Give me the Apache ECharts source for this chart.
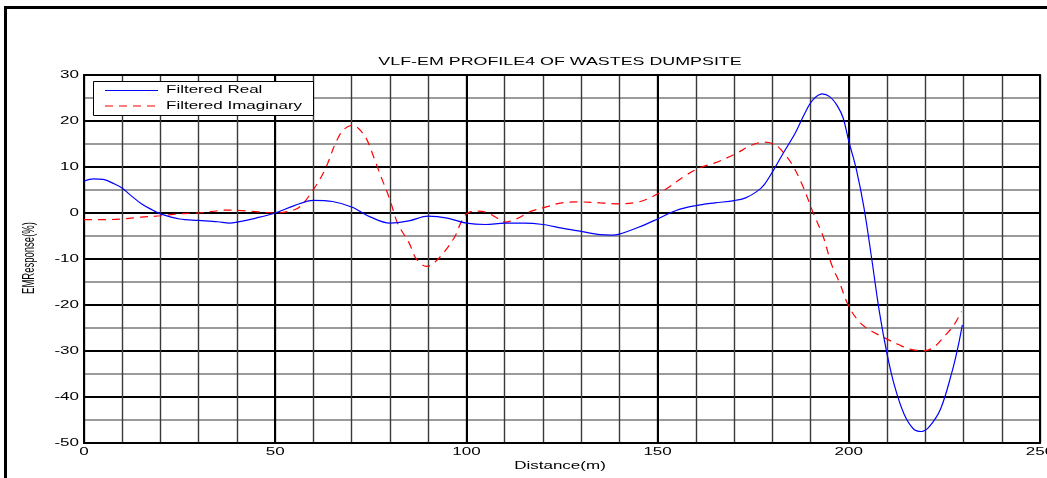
<!DOCTYPE html>
<html>
<head>
<meta charset="utf-8">
<title>VLF-EM Profile 4</title>
<script src="https://cdn.jsdelivr.net/npm/echarts@6/dist/echarts.min.js"></script>
<style>
  html, body { margin: 0; padding: 0; background: #ffffff; }
  #chart { width: 1047px; height: 478px; }
</style>
</head>
<body>
<div id="chart"></div>
<script>
// ---- data -------------------------------------------------------------
const titleText = 'VLF-EM PROFILE4 OF WASTES DUMPSITE';
const xAxisTitle = 'Distance(m)';
const yAxisTitle = 'EMResponse(%)';
const seriesNames = ['Filtered Real', 'Filtered Imaginary'];

const xTickLabels = [0, 50, 100, 150, 200, 250];
const yTickLabels = [30, 20, 10, 0, -10, -20, -30, -40, -50];

const realDist = [0, 2.5, 5, 8, 10, 12, 15, 18, 20, 25, 30, 35, 38, 40, 45, 50, 55, 60, 65, 70,
  75, 80, 85, 90, 95, 100, 105, 110, 115, 120, 125, 130, 135, 138, 140, 145, 150, 155, 160, 165,
  170, 173, 176, 178, 180.5, 183, 186, 188.5, 190.5, 193, 195, 197, 198.5, 200, 202, 204, 206,
  208, 210, 212, 214.5, 217, 219, 221, 224, 227, 228.5, 229.7];
const realResp = [6.9, 7.4, 7.3, 6.3, 5.4, 4.0, 2.0, 0.6, -0.2, -1.3, -1.6, -1.9, -2.2, -2.0, -1.1, 0, 1.6, 2.75, 2.5, 1.3,
  -0.9, -2.2, -1.7, -0.7, -1.1, -2.2, -2.5, -2.2, -2.2, -2.5, -3.3, -4.0, -4.7, -4.8, -4.6, -3.1, -1.3, 0.6, 1.6, 2.2,
  2.7, 3.3, 4.7, 6.3, 9.6, 13.2, 17.4, 21.7, 24.5, 25.9, 25.3, 23.3, 20.7, 15.6, 9.4, 1.0, -10.0,
  -21.5, -30.6, -37.7, -43.8, -47.0, -47.5, -46.5, -42.6, -34.5, -29.3, -24.3];

const imagDist = [0, 5, 10, 15, 20, 25, 30, 35, 38, 40, 45, 50, 55, 57, 60, 63, 66, 68, 70.3, 72,
  74, 76, 78, 80, 82, 85, 87, 89.5, 91, 94, 97, 98.5, 100, 102, 105, 108, 110, 113, 117, 120,
  125, 130, 135, 140, 145, 148, 152, 157, 161, 165, 170, 175, 178, 181, 183.5, 185.5, 188, 190.7,
  193.3, 195.5, 197.6, 200, 203, 206, 209.5, 213, 216.5, 220, 222.5, 225, 227.3, 229.5];
const imagResp = [-1.45, -1.45, -1.3, -0.9, -0.6, -0.15, 0, 0.5, 0.65, 0.6, 0.3, 0, 0.7, 1.8, 5.1, 9.4, 15.6, 18.2, 19.1, 18.2,
  15.9, 11.6, 7.2, 2.9, -2.2, -6.5, -10.1, -11.6, -11.2, -8.7, -5.1, -2.2, -0.2, 0.4, 0.2, -1.1, -2.0, -1.3, 0.4, 1.1,
  2.2, 2.4, 2.2, 2.0, 2.4, 3.3, 5.1, 8.0, 9.8, 10.9, 12.7, 14.9, 15.4, 14.7, 12.5, 10.1, 5.8, 0,
  -5.1, -11.2, -15.2, -20.3, -23.9, -25.7, -27.2, -28.6, -29.7, -29.9, -29.0, -26.8, -24.6, -21.4];

// ---- styling ----------------------------------------------------------
const FONT = '"Liberation Sans", Arial, Helvetica, sans-serif';
const STRETCH = 1.7;          // text is drawn wide, like the exported figure
const REAL_COLOR = '#0000ff';
const IMAG_COLOR = '#ff0000';

const zip = (xs, ys) => xs.map((x, i) => [x, ys[i]]);

const chart = echarts.init(document.getElementById('chart'), null, { renderer: 'canvas' });

const baseOption = {
  animation: false,
  backgroundColor: '#ffffff',
  grid: { left: 84, right: 7, top: 75, bottom: 35, containLabel: false },
  xAxis: [
    {
      type: 'value', min: 0, max: 250, interval: 10,
      axisLine: { show: true, onZero: false, lineStyle: { color: '#000', width: 2 } },
      axisTick: { show: false }, axisLabel: { show: false },
      splitLine: { show: true, lineStyle: { color: '#3a3a3a', width: 1.4 } }
    },
    {
      type: 'value', min: 0, max: 250, interval: 50, position: 'top',
      axisLine: { show: true, onZero: false, lineStyle: { color: '#000', width: 2 } },
      axisTick: { show: false }, axisLabel: { show: false },
      splitLine: { show: true, lineStyle: { color: '#000', width: 2 } }
    }
  ],
  yAxis: [
    {
      type: 'value', min: -50, max: 30, interval: 5,
      axisLine: { show: true, onZero: false, lineStyle: { color: '#000', width: 2 } },
      axisTick: { show: false }, axisLabel: { show: false },
      splitLine: { show: true, lineStyle: { color: '#7a7a7a', width: 1.6 } }
    },
    {
      type: 'value', min: -50, max: 30, interval: 10, position: 'right',
      axisLine: { show: true, onZero: false, lineStyle: { color: '#000', width: 2 } },
      axisTick: { show: false }, axisLabel: { show: false },
      splitLine: { show: true, lineStyle: { color: '#000', width: 2 } }
    }
  ],
  series: [
    {
      name: seriesNames[0], type: 'line', xAxisIndex: 0, yAxisIndex: 0,
      data: zip(realDist, realResp), smooth: 0.35, showSymbol: false, z: 5,
      lineStyle: { color: REAL_COLOR, width: 1.2 }
    },
    {
      name: seriesNames[1], type: 'line', xAxisIndex: 0, yAxisIndex: 0,
      data: zip(imagDist, imagResp), smooth: 0.35, showSymbol: false, z: 4,
      lineStyle: { color: IMAG_COLOR, width: 1.2, type: [8, 6] }
    }
  ]
};
chart.setOption(baseOption);

// Wide text helper: anchor at (x, y), stretched horizontally around the anchor
function wideText(text, x, y, align, vAlign, size, extra) {
  return Object.assign({
    type: 'text', x: x, y: y, scaleX: STRETCH, z: 100,
    style: {
      text: String(text), x: 0, y: 0,
      fill: '#000', fontSize: size || 10, fontFamily: FONT,
      align: align, verticalAlign: vAlign, textAlign: align, textVerticalAlign: vAlign
    }
  }, extra || {});
}

const graphics = [];

// outer figure frame
graphics.push({
  type: 'rect', z: 100, silent: true,
  shape: { x: 5.5, y: 7.5, width: 1200, height: 800 },
  style: { fill: null, stroke: '#000', lineWidth: 3 }
});

// title and axis titles
graphics.push(wideText(titleText, 560, 62, 'center', 'middle', 10.5));
graphics.push(wideText(xAxisTitle, 560, 466, 'center', 'middle', 10));
graphics.push({
  type: 'text', x: 30, y: 258, rotation: Math.PI / 2, scaleY: STRETCH, z: 100,
  style: {
    text: yAxisTitle, x: 0, y: 0, fill: '#000', fontSize: 9.5, fontFamily: FONT,
    align: 'center', verticalAlign: 'middle', textAlign: 'center', textVerticalAlign: 'middle'
  }
});

// tick labels placed through the axis scales
xTickLabels.forEach(v => {
  const px = chart.convertToPixel({ xAxisIndex: 0 }, v);
  graphics.push(wideText(v, px, 452.5, 'center', 'middle', 10));
});
yTickLabels.forEach(v => {
  const py = chart.convertToPixel({ yAxisIndex: 0 }, v);
  graphics.push(wideText(v, 79, py, 'right', 'middle', 10));
});

// legend box
graphics.push({
  type: 'rect', z: 90, silent: true,
  shape: { x: 93.5, y: 81.5, width: 220, height: 34 },
  style: { fill: '#ffffff', stroke: '#000', lineWidth: 1 }
});
graphics.push({
  type: 'line', z: 100, silent: true,
  shape: { x1: 105, y1: 90.5, x2: 158, y2: 90.5 },
  style: { stroke: REAL_COLOR, lineWidth: 1.2 }
});
graphics.push({
  type: 'line', z: 100, silent: true,
  shape: { x1: 105, y1: 106, x2: 158, y2: 106 },
  style: { stroke: IMAG_COLOR, lineWidth: 1.2, lineDash: [8, 6] }
});
graphics.push(wideText(seriesNames[0], 166, 90.5, 'left', 'middle', 10));
graphics.push(wideText(seriesNames[1], 166, 106, 'left', 'middle', 10));

chart.setOption({ graphic: { elements: graphics } });
</script>
</body>
</html>
